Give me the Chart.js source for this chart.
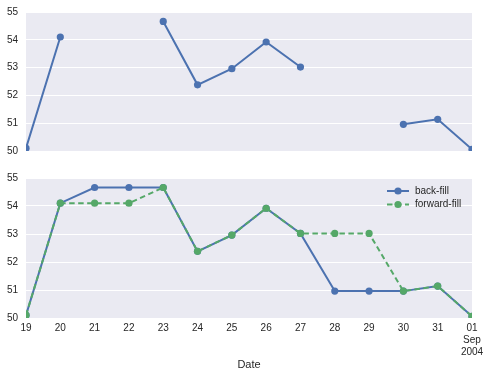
<!DOCTYPE html>
<html>
<head>
<meta charset="utf-8">
<script src="https://cdn.jsdelivr.net/npm/chart.js@4"></script>
<style>
  body { margin: 0; background: #fff; }
  #wrap { position: relative; width: 490px; height: 377px; overflow: hidden; }
  .box { position: absolute; left: 0; width: 490px; }
</style>
</head>
<body>
<div id="wrap">
  <div class="box" style="top:-2px;height:167px"><canvas id="topChart"></canvas></div>
  <div class="box" style="top:164px;height:213px"><canvas id="botChart"></canvas></div>
</div>
<script>
// dias de agosto/setembro 2004
var dias = ['19', '20', '21', '22', '23', '24', '25', '26', '27', '28', '29', '30', '31', ['01', 'Sep', '2004']];
var original = [50.1, 54.1, null, null, 54.66, 52.38, 52.96, 53.92, 53.02, null, null, 50.96, 51.14, 50.06];
var backFill = [50.1, 54.1, 54.66, 54.66, 54.66, 52.38, 52.96, 53.92, 53.02, 50.96, 50.96, 50.96, 51.14, 50.06];
var forwardFill = [50.1, 54.1, 54.1, 54.1, 54.66, 52.38, 52.96, 53.92, 53.02, 53.02, 53.02, 50.96, 51.14, 50.06];
var yTicks = [50, 51, 52, 53, 54, 55];

var azul = '#4C72B0';
var verde = '#55A868';
var fonte = { family: 'Liberation Sans, Arial, sans-serif', size: 10 };
Chart.defaults.color = '#262626';
Chart.defaults.font = fonte;

// fundo cinza do seaborn
var fundo = {
    id: 'fundo',
    beforeDraw: function (chart) {
        var a = chart.chartArea;
        chart.ctx.save();
        chart.ctx.fillStyle = '#EAEAF2';
        chart.ctx.fillRect(a.left, a.top, a.right - a.left, a.bottom - a.top);
        chart.ctx.restore();
    }
};

// legenda desenhada dentro da area do grafico
var legenda = {
    id: 'legenda',
    afterDraw: function (chart) {
        var ctx = chart.ctx;
        var a = chart.chartArea;
        var x0 = a.right - 85, y0 = a.top + 13;
        chart.data.datasets.forEach(function (ds, i) {
            var y = y0 + i * 13.5;
            ctx.save();
            ctx.strokeStyle = ds.borderColor;
            ctx.lineWidth = 2;
            ctx.setLineDash(ds.borderDash || []);
            ctx.beginPath();
            ctx.moveTo(x0, y);
            ctx.lineTo(x0 + 22, y);
            ctx.stroke();
            ctx.setLineDash([]);
            ctx.fillStyle = ds.borderColor;
            ctx.beginPath();
            ctx.arc(x0 + 11, y, 3.6, 0, Math.PI * 2);
            ctx.fill();
            ctx.fillStyle = '#262626';
            ctx.font = '10px Liberation Sans, Arial, sans-serif';
            ctx.textBaseline = 'middle';
            ctx.fillText(ds.label, x0 + 28, y);
            ctx.restore();
        });
    }
};

function eixoY() {
    return {
        min: 50,
        max: 55,
        afterBuildTicks: function (s) { s.ticks = yTicks.map(function (v) { return { value: v }; }); },
        afterFit: function (s) { s.width = 26; },
        grid: { color: '#ffffff', lineWidth: 1, drawTicks: false },
        border: { display: false },
        ticks: { padding: 8, font: fonte }
    };
}

function serie(label, dados, cor, tracejado, ordem) {
    return {
        label: label,
        data: dados,
        borderColor: cor,
        backgroundColor: cor,
        borderWidth: 2,
        borderDash: tracejado ? [5.5, 3.5] : [],
        pointRadius: 3.6,
        pointHoverRadius: 3.6,
        pointBorderWidth: 0,
        tension: 0,
        spanGaps: false,
        clip: 0,
        order: ordem
    };
}

new Chart(document.getElementById('topChart'), {
    type: 'line',
    data: { labels: dias, datasets: [serie('original', original, azul, false, 1)] },
    options: {
        responsive: true,
        maintainAspectRatio: false,
        animation: false,
        layout: { padding: { top: 10, right: 18, left: 0, bottom: 14 } },
        plugins: { legend: { display: false }, tooltip: { enabled: false } },
        scales: {
            x: { display: false, offset: false },
            y: eixoY()
        }
    },
    plugins: [fundo]
});

new Chart(document.getElementById('botChart'), {
    type: 'line',
    data: {
        labels: dias,
        datasets: [
            serie('back-fill', backFill, azul, false, 2),
            serie('forward-fill', forwardFill, verde, true, 1)
        ]
    },
    options: {
        responsive: true,
        maintainAspectRatio: false,
        animation: false,
        layout: { padding: { top: 13, right: 18, left: 0, bottom: 0 } },
        plugins: { legend: { display: false }, tooltip: { enabled: false } },
        scales: {
            x: {
                offset: false,
                afterFit: function (s) { s.height = 59; },
                grid: { display: false, drawTicks: false },
                border: { display: false },
                ticks: { autoSkip: false, maxRotation: 0, padding: 4, font: fonte },
                title: { display: true, text: 'Date', font: { family: fonte.family, size: 11 }, padding: { top: 4, bottom: 5 } }
            },
            y: eixoY()
        }
    },
    plugins: [fundo, legenda]
});
</script>
</body>
</html>
